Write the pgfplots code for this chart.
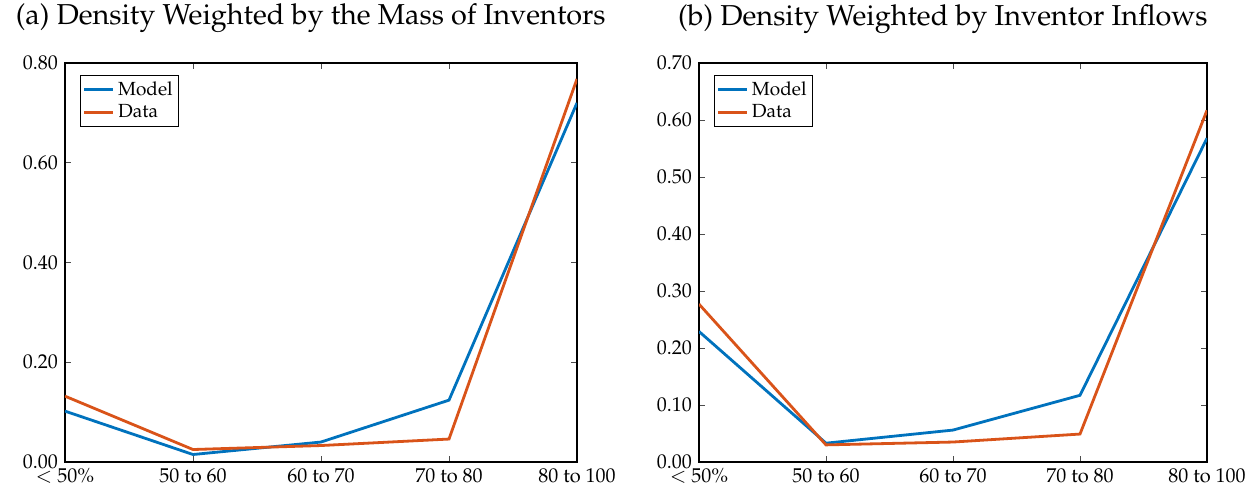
\documentclass[border=0pt]{standalone}
\usepackage[T1]{fontenc}
\usepackage{mathpazo}
\usepackage{pgfplots}
\pgfplotsset{compat=1.18}
\definecolor{mblue}{RGB}{0,114,189}
\definecolor{morange}{RGB}{217,83,25}
\pgfplotsset{
  myax/.style={
    scale only axis, width=256pt, height=199.5pt,
    xmin=0, xmax=4, ymin=0,
    xtick={0,1,2,3,4},
    xticklabels={{$<$ 50\%},{50 to 60},{60 to 70},{70 to 80},{80 to 100}},
    tick align=inside, major tick length=3pt,
    tick style={black!70, line width=0.4pt},
    axis line style={line width=0.6pt},
    ticklabel style={font=\fontsize{10}{11}\selectfont},
    yticklabel style={/pgf/number format/.cd, fixed, fixed zerofill, precision=2},
    legend style={at={(0.03,0.97)}, anchor=north west, font=\fontsize{9.5}{11}\selectfont,
      draw=black, line width=0.5pt, inner sep=1pt, row sep=-1pt},
    legend cell align=left,
    legend image post style={line width=1.4pt},
    legend image code/.code={\draw[#1] (0pt,0pt) -- (0.5cm,0pt);},
    title style={at={(0.48,1)}, anchor=base, yshift=13pt, font=\fontsize{14.4}{17}\selectfont},
    every axis plot/.append style={line width=1.4pt},
  }
}
\begin{document}
\begin{tikzpicture}
\path[use as bounding box] (-32.5pt,-14.5pt) rectangle (595pt,231pt);
\begin{axis}[myax, at={(0pt,0pt)}, anchor=south west, ymax=0.8,
  ytick={0,0.2,0.4,0.6,0.8},
  title={(a) Density Weighted by the Mass of Inventors}]
\addplot[mblue] coordinates {(0,0.102) (1,0.015) (2,0.040) (3,0.124) (4,0.720)};
\addplot[morange] coordinates {(0,0.132) (1,0.025) (2,0.033) (3,0.046) (4,0.768)};
\legend{Model,Data}
\end{axis}
\begin{axis}[myax, at={(317pt,0pt)}, anchor=south west, ymax=0.7, width=254pt,
  ytick={0,0.1,0.2,0.3,0.4,0.5,0.6,0.7},
  title={(b) Density Weighted by Inventor Inflows}]
\addplot[mblue] coordinates {(0,0.229) (1,0.033) (2,0.056) (3,0.117) (4,0.568)};
\addplot[morange] coordinates {(0,0.277) (1,0.030) (2,0.035) (3,0.049) (4,0.617)};
\legend{Model,Data}
\end{axis}
\end{tikzpicture}
\end{document}
